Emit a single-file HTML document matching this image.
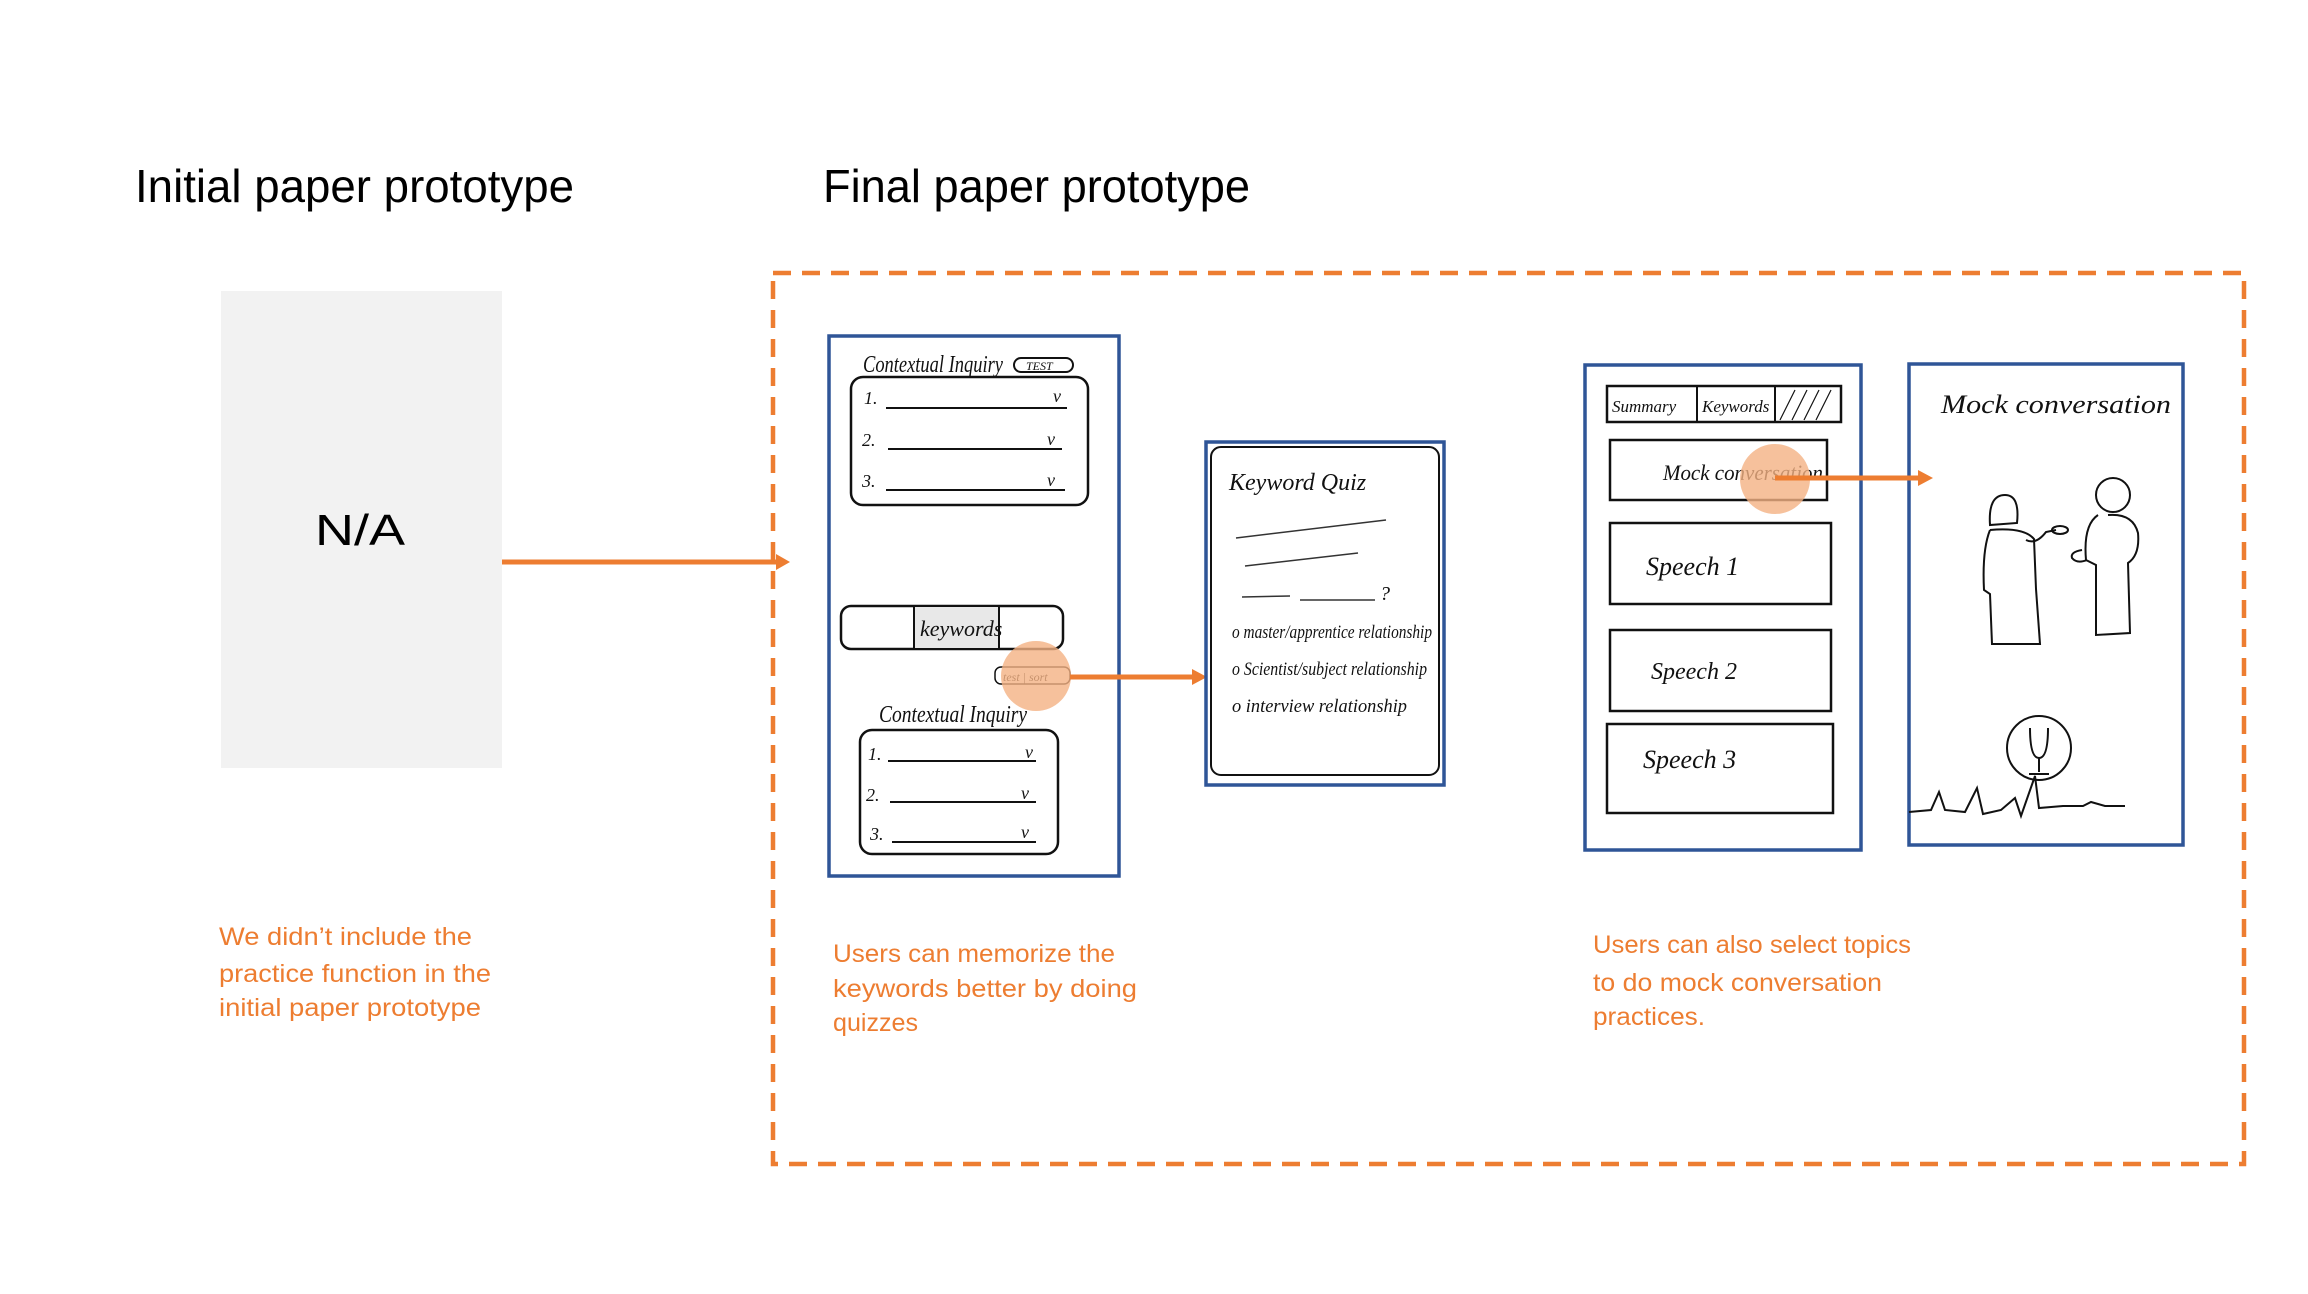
<!DOCTYPE html>
<html><head><meta charset="utf-8"><style>
html,body{margin:0;padding:0;background:#fff;}
svg{display:block;}
.t{font-family:"Liberation Sans",sans-serif;}
.h{font-family:"Liberation Serif",serif;font-style:italic;fill:#111;}
.c{font-family:"Liberation Sans",sans-serif;fill:#ed7d31;font-size:25px;}
</style></head><body>
<svg width="2308" height="1294" viewBox="0 0 2308 1294" xmlns="http://www.w3.org/2000/svg">
<!-- titles -->
<text class="t" x="135" y="202" font-size="46" textLength="439" lengthAdjust="spacingAndGlyphs" fill="#000">Initial paper prototype</text>
<text class="t" x="823" y="202" font-size="46" textLength="427" lengthAdjust="spacingAndGlyphs" fill="#000">Final paper prototype</text>
<!-- N/A -->
<rect x="221" y="291" width="281" height="477" fill="#f2f2f2"/>
<text class="t" x="315" y="545" font-size="44" textLength="90" lengthAdjust="spacingAndGlyphs" fill="#000">N/A</text>
<!-- dashed box -->
<rect x="773" y="273" width="1471" height="891" fill="none" stroke="#ed7d31" stroke-width="4.5" stroke-dasharray="18,11"/>
<!-- arrow 1 -->
<line x1="502" y1="562" x2="778" y2="562" stroke="#ed7d31" stroke-width="5"/>
<path d="M776,554 L790,562 L776,570 Z" fill="#ed7d31"/>

<!-- phone 1 -->
<rect x="829" y="336" width="290" height="540" fill="#fff" stroke="#2f5597" stroke-width="3.5"/>
<text class="h" x="863" y="372" font-size="24" textLength="140" lengthAdjust="spacingAndGlyphs">Contextual Inquiry</text>
<rect x="1014" y="358" width="59" height="14" rx="7" fill="none" stroke="#111" stroke-width="2"/>
<text class="h" x="1026" y="370" font-size="12">TEST</text>
<rect x="851" y="377" width="237" height="128" rx="12" fill="none" stroke="#111" stroke-width="2.5"/>
<g stroke="#111" stroke-width="2">
<line x1="886" y1="408" x2="1067" y2="408"/><line x1="888" y1="449" x2="1062" y2="449"/><line x1="886" y1="490" x2="1065" y2="490"/>
</g>
<text class="h" x="864" y="404" font-size="18">1.</text><text class="h" x="862" y="446" font-size="18">2.</text><text class="h" x="862" y="487" font-size="18">3.</text>
<text class="h" x="1053" y="402" font-size="18">v</text><text class="h" x="1047" y="445" font-size="18">v</text><text class="h" x="1047" y="486" font-size="18">v</text>
<rect x="841" y="606" width="222" height="43" rx="10" fill="none" stroke="#111" stroke-width="2.5"/>
<rect x="914" y="606" width="85" height="43" fill="#e8e8e8" stroke="#111" stroke-width="2"/>
<text class="h" x="920" y="636" font-size="22">keywords</text>
<rect x="995" y="667" width="75" height="17" rx="6" fill="none" stroke="#111" stroke-width="1.5"/>
<text class="h" x="1003" y="681" font-size="12">test | sort</text>
<circle cx="1036" cy="676" r="35" fill="#f4b183" opacity="0.8"/>
<text class="h" x="879" y="722" font-size="24" textLength="148" lengthAdjust="spacingAndGlyphs">Contextual Inquiry</text>
<rect x="860" y="730" width="198" height="124" rx="12" fill="none" stroke="#111" stroke-width="2.5"/>
<g stroke="#111" stroke-width="2">
<line x1="888" y1="761" x2="1036" y2="761"/><line x1="890" y1="802" x2="1036" y2="802"/><line x1="892" y1="842" x2="1036" y2="842"/>
</g>
<text class="h" x="868" y="760" font-size="18">1.</text><text class="h" x="866" y="801" font-size="18">2.</text><text class="h" x="870" y="840" font-size="18">3.</text>
<text class="h" x="1025" y="758" font-size="18">v</text><text class="h" x="1021" y="799" font-size="18">v</text><text class="h" x="1021" y="838" font-size="18">v</text>

<!-- arrow 2 -->
<line x1="1070" y1="677" x2="1194" y2="677" stroke="#ed7d31" stroke-width="5"/>
<path d="M1192,669 L1207,677 L1192,685 Z" fill="#ed7d31"/>

<!-- phone 2 -->
<rect x="1206" y="442" width="238" height="343" fill="#fff" stroke="#2f5597" stroke-width="3.5"/>
<rect x="1211" y="447" width="228" height="328" rx="10" fill="none" stroke="#111" stroke-width="2"/>
<text class="h" x="1229" y="490" font-size="24">Keyword Quiz</text>
<g stroke="#333" stroke-width="1.5">
<line x1="1236" y1="538" x2="1386" y2="520"/><line x1="1245" y1="566" x2="1358" y2="553"/><line x1="1242" y1="597" x2="1290" y2="596"/><line x1="1300" y1="600" x2="1375" y2="600"/>
</g>
<text class="h" x="1380" y="600" font-size="20">?</text>
<text class="h" x="1232" y="638" font-size="19" textLength="200" lengthAdjust="spacingAndGlyphs">o master/apprentice relationship</text>
<text class="h" x="1232" y="675" font-size="19" textLength="195" lengthAdjust="spacingAndGlyphs">o Scientist/subject relationship</text>
<text class="h" x="1232" y="712" font-size="19" textLength="175" lengthAdjust="spacingAndGlyphs">o interview relationship</text>

<!-- phone 3 -->
<rect x="1585" y="365" width="276" height="485" fill="#fff" stroke="#2f5597" stroke-width="3.5"/>
<rect x="1607" y="386" width="234" height="36" fill="none" stroke="#111" stroke-width="2.5"/>
<line x1="1697" y1="386" x2="1697" y2="422" stroke="#111" stroke-width="2"/>
<line x1="1775" y1="386" x2="1775" y2="422" stroke="#111" stroke-width="2"/>
<g stroke="#111" stroke-width="1.2"><line x1="1780" y1="420" x2="1795" y2="390"/><line x1="1792" y1="420" x2="1807" y2="390"/><line x1="1804" y1="420" x2="1819" y2="390"/><line x1="1816" y1="420" x2="1831" y2="390"/></g>
<text class="h" x="1612" y="412" font-size="17">Summary</text>
<text class="h" x="1702" y="412" font-size="17">Keywords</text>
<rect x="1610" y="440" width="217" height="60" fill="none" stroke="#111" stroke-width="2.5"/>
<text class="h" x="1663" y="480" font-size="22" textLength="160" lengthAdjust="spacingAndGlyphs">Mock conversation</text>
<circle cx="1775" cy="479" r="35" fill="#f4b183" opacity="0.8"/>
<rect x="1610" y="523" width="221" height="81" fill="none" stroke="#111" stroke-width="2.5"/>
<text class="h" x="1646" y="575" font-size="26">Speech  1</text>
<rect x="1610" y="630" width="221" height="81" fill="none" stroke="#111" stroke-width="2.5"/>
<text class="h" x="1651" y="679" font-size="24">Speech  2</text>
<rect x="1607" y="724" width="226" height="89" fill="none" stroke="#111" stroke-width="2.5"/>
<text class="h" x="1643" y="768" font-size="26">Speech  3</text>

<!-- phone 4 -->
<rect x="1909" y="364" width="274" height="481" fill="#fff" stroke="#2f5597" stroke-width="3.5"/>
<text class="h" x="1941" y="413" font-size="26" textLength="230" lengthAdjust="spacingAndGlyphs">Mock  conversation</text>
<g fill="none" stroke="#111" stroke-width="2">
<path d="M1990,525 q-2,-30 15,-30 q15,0 12,28 z"/>
<path d="M1990,530 q-8,20 -6,60 l6,4 l2,50 l48,0 l-4,-55 l-2,-50 q-10,-12 -44,-9"/>
<path d="M2026,540 q10,5 20,-8 l10,-2"/>
<ellipse cx="2060" cy="530" rx="8" ry="4"/>
<circle cx="2113" cy="495" r="17"/>
<path d="M2098,515 q-15,10 -12,45 l10,5 l0,70 l34,-2 l-2,-70 q12,-8 10,-30 q-5,-20 -30,-18"/>
<path d="M2082,550 q-12,2 -10,8 q5,6 15,2"/>
<circle cx="2039" cy="748" r="32"/>
<path d="M2030,728 q0,30 9,30 q9,0 9,-30"/>
<line x1="2039" y1="758" x2="2039" y2="772"/><line x1="2029" y1="774" x2="2049" y2="774"/>
<path d="M1909,812 l22,-2 l8,-18 l6,18 l20,2 l12,-24 l6,26 l18,-4 l14,-12 l6,18 l14,-40 l4,32 l24,-2 l20,0 l8,-4 l14,4 l20,0"/>
</g>

<!-- arrow 3 (drawn on top) -->
<line x1="1775" y1="478" x2="1920" y2="478" stroke="#ed7d31" stroke-width="5"/>
<path d="M1918,470 L1933,478 L1918,486 Z" fill="#ed7d31"/>

<!-- captions -->
<text class="c" x="219" y="945" textLength="253" lengthAdjust="spacingAndGlyphs">We didn’t include the</text>
<text class="c" x="219" y="982" textLength="272" lengthAdjust="spacingAndGlyphs">practice function in the</text>
<text class="c" x="219" y="1016" textLength="262" lengthAdjust="spacingAndGlyphs">initial paper prototype</text>

<text class="c" x="833" y="962" textLength="282" lengthAdjust="spacingAndGlyphs">Users can memorize the</text>
<text class="c" x="833" y="997" textLength="304" lengthAdjust="spacingAndGlyphs">keywords better by  doing</text>
<text class="c" x="833" y="1031" textLength="85" lengthAdjust="spacingAndGlyphs">quizzes</text>

<text class="c" x="1593" y="953" textLength="318" lengthAdjust="spacingAndGlyphs">Users can also select topics</text>
<text class="c" x="1593" y="991" textLength="289" lengthAdjust="spacingAndGlyphs">to do mock conversation</text>
<text class="c" x="1593" y="1025" textLength="112" lengthAdjust="spacingAndGlyphs">practices.</text>
</svg>
</body></html>
